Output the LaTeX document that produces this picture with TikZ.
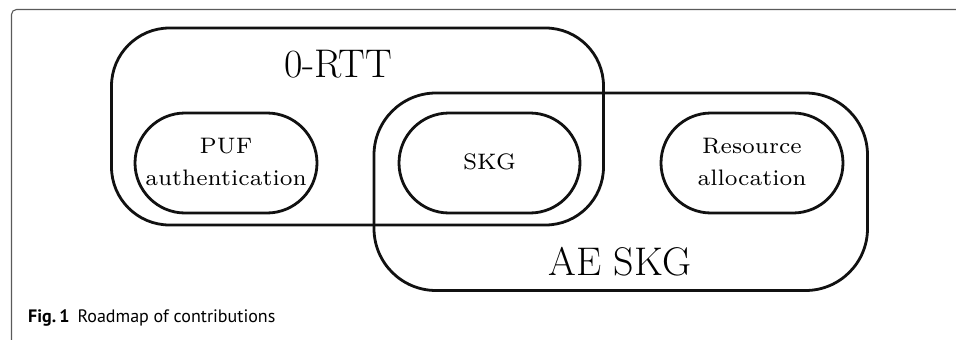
\documentclass[tikz,border=0pt]{standalone}
\usepackage{fontspec}
\usepackage{graphicx}
\newfontfamily\capfont{PT Sans}
\definecolor{framegray}{HTML}{5A5A5A}
\definecolor{ink}{HTML}{111111}
\newcommand{\pilltext}[1]{\scalebox{3.2}{\fontsize{7}{9.85}\selectfont\begin{tabular}{@{}c@{}}#1\end{tabular}}}
\tikzset{
  bigbox/.style={draw=ink, line width=2.8pt, rounded corners=58pt, inner sep=0pt, minimum width=492pt, minimum height=197pt},
  pill/.style={draw=ink, line width=2.8pt, rounded corners=50pt, inner sep=0pt, minimum width=182pt, minimum height=100pt},
  biglabel/.style={anchor=base, inner sep=0pt, font=\fontsize{40}{48}\selectfont},
  framestyle/.style={draw=framegray, line width=1.1pt, rounded corners=5pt}
}
\begin{document}
\begin{tikzpicture}[x=1pt,y=-1pt]
\useasboundingbox (0,0) rectangle (956,340);
% figure frame
\draw[framestyle] (11.5,340) -- (11.5,9.5) -- (956,9.5);
% big sets
\node[bigbox] (rtt) at (357.5,126.5) {};
\node[bigbox, minimum width=493.5pt, minimum height=197.5pt, rounded corners=62pt] (ae) at (620.75,191.75) {};
\node[biglabel] (rttlabel) at (338,77) {0-RTT};
\node[biglabel] (aelabel) at (620,275) {AE SKG};
% pills
\node[pill] (puf) at (226,163) {\pilltext{PUF\\authentication}};
\node[pill, minimum width=181pt] (skg) at (489.5,163) {\pilltext{SKG}};
\node[pill] (res) at (752,163) {\pilltext{Resource\\allocation}};
% caption
\node[anchor=base west, inner sep=0pt] (caption) at (28,322) {\capfont\fontsize{18}{21}\selectfont\bfseries Fig.\,1\hspace{0.45em}\mdseries Roadmap of contributions};
\end{tikzpicture}
\end{document}
